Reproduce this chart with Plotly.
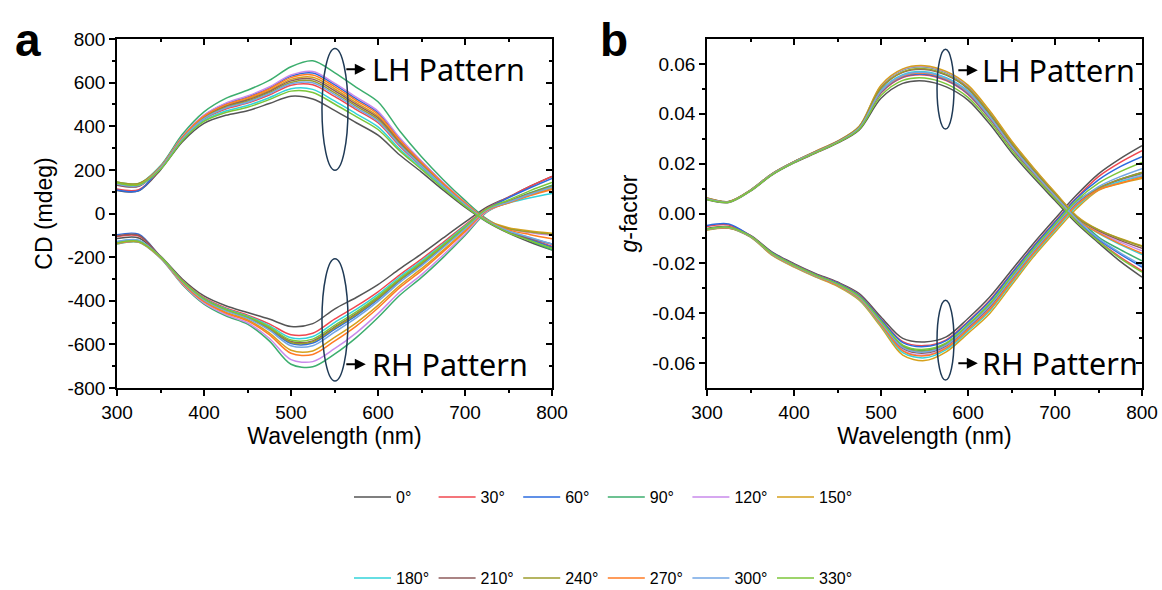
import plotly.graph_objects as go

# ---------------- data ----------------
WL = [300, 325, 350, 375, 400, 425, 450, 475, 500, 525, 550, 575, 600, 625, 650, 675, 700, 725, 750, 775, 800]
ANGLES = ['0°', '30°', '60°', '90°', '120°', '150°', '180°', '210°', '240°', '270°', '300°', '330°']
COLORS = ['#555555', '#F0474F', '#2B6BDF', '#3CAE6E', '#C98AEB', '#D6A11C',
          '#33D3DA', '#8E5B5B', '#9C9C2C', '#FF7B24', '#72A6E4', '#7CC63A']

X_TICKS = [300, 400, 500, 600, 700, 800]
CD_TICKS = [-800, -600, -400, -200, 0, 200, 400, 600, 800]
CD_TICKTEXT = ['-800', '-600', '-400', '-200', '0', '200', '400', '600', '800']
G_TICKS = [-0.06, -0.04, -0.02, 0.0, 0.02, 0.04, 0.06]
G_TICKTEXT = ['-0.06', '-0.04', '-0.02', '0.00', '0.02', '0.04', '0.06']

# panel a: CD (mdeg), LH pattern
cd_lh_000 = [106, 104, 200, 328, 413, 450, 471, 504, 538, 525, 473, 416, 359, 268, 190, 107, 29, -38, -90, -132, -168]
cd_lh_030 = [112, 109, 207, 341, 433, 479, 506, 543, 588, 590, 537, 476, 416, 309, 216, 125, 40, -33, -85, -118, -150]
cd_lh_060 = [108, 105, 213, 351, 449, 503, 535, 576, 630, 644, 591, 526, 463, 343, 238, 140, 50, -29, -85, -120, -155]
cd_lh_090 = [144, 138, 219, 362, 466, 528, 565, 610, 673, 700, 646, 578, 512, 378, 260, 155, 60, -25, -80, -125, -167]
cd_lh_120 = [140, 134, 214, 352, 451, 506, 539, 580, 635, 651, 598, 533, 469, 347, 240, 142, 51, -29, -70, -88, -100]
cd_lh_150 = [142, 135, 211, 347, 443, 494, 525, 564, 615, 625, 572, 508, 446, 331, 230, 134, 47, -31, -65, -80, -90]
cd_lh_180 = [132, 126, 205, 337, 426, 470, 495, 531, 572, 569, 516, 457, 397, 296, 208, 119, 37, -35, -80, -112, -140]
cd_lh_210 = [130, 125, 210, 346, 441, 491, 520, 559, 608, 616, 563, 500, 439, 325, 226, 132, 45, -31, -85, -115, -140]
cd_lh_240 = [145, 138, 209, 344, 438, 487, 515, 554, 601, 607, 554, 492, 431, 320, 223, 130, 44, -32, -70, -85, -95]
cd_lh_270 = [138, 132, 212, 349, 446, 499, 530, 571, 623, 635, 582, 518, 455, 337, 234, 137, 49, -30, -75, -97, -116]
cd_lh_300 = [135, 128, 208, 342, 435, 483, 510, 549, 595, 599, 546, 484, 423, 314, 219, 127, 42, -33, -80, -110, -140]
cd_lh_330 = [140, 132, 203, 334, 422, 463, 487, 522, 561, 555, 502, 444, 385, 287, 202, 115, 34, -36, -88, -125, -160]

# panel a: CD (mdeg), RH pattern
cd_rh_000 = [-115, -112, -195, -300, -378, -423, -454, -484, -518, -505, -438, -385, -326, -254, -185, -112, -40, 29, 75, 125, 170]
cd_rh_030 = [-105, -103, -197, -306, -386, -433, -466, -506, -556, -549, -484, -425, -359, -281, -209, -132, -53, 24, 75, 125, 170]
cd_rh_060 = [-98, -95, -200, -311, -395, -444, -478, -529, -596, -594, -531, -468, -394, -308, -234, -152, -67, 19, 72, 118, 161]
cd_rh_090 = [-140, -132, -205, -325, -415, -469, -507, -584, -691, -703, -645, -569, -477, -375, -293, -201, -101, 6, 55, 95, 130]
cd_rh_120 = [-138, -130, -204, -322, -411, -463, -501, -572, -670, -679, -620, -547, -459, -360, -280, -190, -94, 9, 50, 85, 115]
cd_rh_150 = [-135, -128, -201, -316, -401, -452, -487, -547, -627, -630, -568, -501, -421, -330, -253, -168, -78, 15, 50, 85, 115]
cd_rh_180 = [-130, -124, -198, -308, -389, -437, -470, -514, -570, -564, -500, -440, -371, -290, -217, -139, -58, 16, 48, 72, 92]
cd_rh_210 = [-103, -100, -199, -310, -393, -441, -475, -524, -587, -584, -521, -459, -386, -302, -228, -148, -64, 20, 55, 92, 124]
cd_rh_240 = [-133, -127, -199, -311, -394, -442, -476, -526, -591, -588, -525, -462, -389, -305, -230, -149, -66, 19, 55, 92, 124]
cd_rh_270 = [-137, -130, -202, -318, -404, -456, -492, -555, -641, -646, -585, -516, -433, -340, -262, -175, -83, 13, 48, 82, 110]
cd_rh_300 = [-128, -122, -200, -313, -397, -446, -481, -535, -606, -606, -544, -479, -403, -316, -240, -157, -71, 17, 52, 88, 120]
cd_rh_330 = [-135, -128, -199, -309, -391, -440, -473, -520, -580, -576, -513, -451, -380, -298, -224, -144, -62, 21, 62, 105, 142]

# panel b: g-factor, LH pattern
g_lh_000 = [0.0055, 0.0044, 0.0090, 0.0155, 0.0203, 0.0242, 0.0282, 0.0335, 0.0462, 0.0522, 0.0532, 0.0508, 0.0455, 0.0359, 0.0245, 0.0145, 0.0052, -0.0040, -0.0118, -0.0192, -0.0255]
g_lh_030 = [0.0058, 0.0046, 0.0092, 0.0157, 0.0205, 0.0245, 0.0285, 0.0341, 0.0483, 0.0545, 0.0556, 0.0533, 0.0478, 0.0380, 0.0264, 0.0161, 0.0065, -0.0028, -0.0110, -0.0175, -0.0230]
g_lh_060 = [0.0058, 0.0046, 0.0092, 0.0157, 0.0205, 0.0246, 0.0286, 0.0342, 0.0486, 0.0548, 0.0559, 0.0536, 0.0481, 0.0383, 0.0266, 0.0163, 0.0067, -0.0026, -0.0104, -0.0163, -0.0215]
g_lh_090 = [0.0061, 0.0048, 0.0094, 0.0160, 0.0208, 0.0249, 0.0289, 0.0349, 0.0511, 0.0575, 0.0588, 0.0565, 0.0509, 0.0408, 0.0288, 0.0182, 0.0082, -0.0012, -0.0095, -0.0145, -0.0190]
g_lh_120 = [0.0062, 0.0048, 0.0094, 0.0160, 0.0208, 0.0250, 0.0290, 0.0349, 0.0512, 0.0577, 0.0590, 0.0567, 0.0511, 0.0409, 0.0290, 0.0183, 0.0083, -0.0011, -0.0075, -0.0115, -0.0150]
g_lh_150 = [0.0062, 0.0048, 0.0094, 0.0160, 0.0208, 0.0250, 0.0290, 0.0350, 0.0515, 0.0580, 0.0593, 0.0570, 0.0515, 0.0412, 0.0292, 0.0185, 0.0085, -0.0010, -0.0065, -0.0100, -0.0130]
g_lh_180 = [0.0059, 0.0046, 0.0092, 0.0158, 0.0206, 0.0247, 0.0287, 0.0344, 0.0494, 0.0557, 0.0569, 0.0545, 0.0491, 0.0391, 0.0273, 0.0169, 0.0072, -0.0022, -0.0080, -0.0125, -0.0165]
g_lh_210 = [0.0060, 0.0047, 0.0093, 0.0159, 0.0207, 0.0248, 0.0288, 0.0346, 0.0502, 0.0566, 0.0578, 0.0555, 0.0500, 0.0399, 0.0280, 0.0175, 0.0077, -0.0017, -0.0070, -0.0108, -0.0140]
g_lh_240 = [0.0061, 0.0047, 0.0093, 0.0159, 0.0207, 0.0248, 0.0288, 0.0347, 0.0504, 0.0568, 0.0581, 0.0558, 0.0503, 0.0401, 0.0283, 0.0177, 0.0078, -0.0016, -0.0066, -0.0102, -0.0132]
g_lh_270 = [0.0059, 0.0046, 0.0092, 0.0158, 0.0206, 0.0246, 0.0286, 0.0343, 0.0489, 0.0551, 0.0563, 0.0539, 0.0485, 0.0386, 0.0269, 0.0165, 0.0069, -0.0025, -0.0078, -0.0122, -0.0160]
g_lh_300 = [0.0059, 0.0046, 0.0092, 0.0158, 0.0206, 0.0246, 0.0286, 0.0343, 0.0491, 0.0554, 0.0566, 0.0542, 0.0488, 0.0388, 0.0271, 0.0167, 0.0070, -0.0023, -0.0100, -0.0158, -0.0208]
g_lh_330 = [0.0056, 0.0045, 0.0091, 0.0156, 0.0204, 0.0244, 0.0284, 0.0338, 0.0473, 0.0534, 0.0544, 0.0520, 0.0466, 0.0370, 0.0254, 0.0153, 0.0059, -0.0034, -0.0112, -0.0180, -0.0235]

# panel b: g-factor, RH pattern
g_rh_000 = [-0.0060, -0.0053, -0.0088, -0.0155, -0.0201, -0.0241, -0.0275, -0.0321, -0.0415, -0.0501, -0.0515, -0.0495, -0.0421, -0.0335, -0.0228, -0.0121, -0.0021, 0.0075, 0.0159, 0.0220, 0.0272]
g_rh_030 = [-0.0052, -0.0046, -0.0089, -0.0158, -0.0204, -0.0244, -0.0278, -0.0326, -0.0423, -0.0514, -0.0530, -0.0507, -0.0433, -0.0348, -0.0240, -0.0132, -0.0032, 0.0064, 0.0148, 0.0205, 0.0252]
g_rh_060 = [-0.0048, -0.0042, -0.0090, -0.0158, -0.0205, -0.0245, -0.0279, -0.0328, -0.0425, -0.0518, -0.0534, -0.0510, -0.0436, -0.0352, -0.0243, -0.0135, -0.0035, 0.0061, 0.0135, 0.0188, 0.0228]
g_rh_090 = [-0.0063, -0.0056, -0.0091, -0.0161, -0.0207, -0.0247, -0.0283, -0.0333, -0.0433, -0.0531, -0.0549, -0.0522, -0.0448, -0.0365, -0.0255, -0.0145, -0.0045, 0.0050, 0.0100, 0.0135, 0.0160]
g_rh_120 = [-0.0064, -0.0057, -0.0093, -0.0164, -0.0211, -0.0251, -0.0287, -0.0340, -0.0443, -0.0548, -0.0568, -0.0537, -0.0463, -0.0381, -0.0270, -0.0159, -0.0059, 0.0036, 0.0098, 0.0130, 0.0155]
g_rh_150 = [-0.0066, -0.0059, -0.0095, -0.0168, -0.0215, -0.0255, -0.0292, -0.0348, -0.0455, -0.0568, -0.0590, -0.0555, -0.0481, -0.0401, -0.0288, -0.0175, -0.0075, 0.0020, 0.0093, 0.0120, 0.0140]
g_rh_180 = [-0.0065, -0.0058, -0.0094, -0.0166, -0.0213, -0.0253, -0.0289, -0.0344, -0.0449, -0.0558, -0.0579, -0.0546, -0.0472, -0.0391, -0.0279, -0.0167, -0.0067, 0.0028, 0.0097, 0.0128, 0.0150]
g_rh_210 = [-0.0064, -0.0057, -0.0092, -0.0163, -0.0209, -0.0249, -0.0285, -0.0337, -0.0439, -0.0541, -0.0560, -0.0531, -0.0457, -0.0375, -0.0264, -0.0153, -0.0053, 0.0042, 0.0102, 0.0138, 0.0165]
g_rh_240 = [-0.0063, -0.0056, -0.0092, -0.0162, -0.0208, -0.0248, -0.0284, -0.0335, -0.0435, -0.0535, -0.0553, -0.0525, -0.0451, -0.0368, -0.0258, -0.0148, -0.0048, 0.0047, 0.0102, 0.0138, 0.0165]
g_rh_270 = [-0.0065, -0.0058, -0.0093, -0.0165, -0.0212, -0.0252, -0.0288, -0.0341, -0.0445, -0.0551, -0.0571, -0.0540, -0.0466, -0.0385, -0.0273, -0.0162, -0.0062, 0.0034, 0.0095, 0.0122, 0.0145]
g_rh_300 = [-0.0063, -0.0056, -0.0092, -0.0162, -0.0209, -0.0249, -0.0284, -0.0336, -0.0437, -0.0538, -0.0556, -0.0528, -0.0454, -0.0371, -0.0261, -0.0151, -0.0051, 0.0045, 0.0108, 0.0148, 0.0180]
g_rh_330 = [-0.0062, -0.0055, -0.0091, -0.0160, -0.0207, -0.0247, -0.0282, -0.0332, -0.0431, -0.0528, -0.0545, -0.0519, -0.0445, -0.0361, -0.0252, -0.0143, -0.0043, 0.0053, 0.0122, 0.0168, 0.0205]

CD_LH = [cd_lh_000, cd_lh_030, cd_lh_060, cd_lh_090, cd_lh_120, cd_lh_150,
         cd_lh_180, cd_lh_210, cd_lh_240, cd_lh_270, cd_lh_300, cd_lh_330]
CD_RH = [cd_rh_000, cd_rh_030, cd_rh_060, cd_rh_090, cd_rh_120, cd_rh_150,
         cd_rh_180, cd_rh_210, cd_rh_240, cd_rh_270, cd_rh_300, cd_rh_330]
G_LH = [g_lh_000, g_lh_030, g_lh_060, g_lh_090, g_lh_120, g_lh_150,
        g_lh_180, g_lh_210, g_lh_240, g_lh_270, g_lh_300, g_lh_330]
G_RH = [g_rh_000, g_rh_030, g_rh_060, g_rh_090, g_rh_120, g_rh_150,
        g_rh_180, g_rh_210, g_rh_240, g_rh_270, g_rh_300, g_rh_330]

# ---------------- figure ----------------
W, H = 1162, 590
FONT = 'Liberation Sans, Arial, sans-serif'
LW = 1.5

fig = go.Figure()

for i, (ang, col) in enumerate(zip(ANGLES, COLORS)):
    leg = 'legend' if i < 6 else 'legend2'
    line = dict(color=col, width=LW, shape='spline', smoothing=0.9)
    fig.add_trace(go.Scatter(x=WL, y=CD_LH[i], mode='lines', line=line, name=ang,
                             legend=leg, showlegend=True, xaxis='x', yaxis='y'))
    fig.add_trace(go.Scatter(x=WL, y=CD_RH[i], mode='lines', line=line, name=ang,
                             legend=leg, showlegend=False, xaxis='x', yaxis='y'))
    fig.add_trace(go.Scatter(x=WL, y=G_LH[i], mode='lines', line=line, name=ang,
                             legend=leg, showlegend=False, xaxis='x2', yaxis='y2'))
    fig.add_trace(go.Scatter(x=WL, y=G_RH[i], mode='lines', line=line, name=ang,
                             legend=leg, showlegend=False, xaxis='x2', yaxis='y2'))

# dummy traces to activate the inward-tick overlay axes (top / right)
for xa, ya in [('x3', 'y'), ('x', 'y3'), ('x4', 'y2'), ('x2', 'y4')]:
    fig.add_trace(go.Scatter(x=[None], y=[None], xaxis=xa, yaxis=ya, showlegend=False,
                             hoverinfo='skip'))

xa_dom = [117 / W, 552 / W]
xb_dom = [707 / W, 1142 / W]
y_dom = [1 - 388 / H, 1 - 39 / H]

x_minor = [v for v in range(350, 800, 100)]
cd_minor = [v for v in range(-700, 800, 200)]
g_minor = [-0.05, -0.03, -0.01, 0.01, 0.03, 0.05]

def xaxis_main(dom, anchor):
    return dict(domain=dom, anchor=anchor, range=[300, 800], tickmode='array', tickvals=X_TICKS,
                ticks='outside', ticklen=6, tickwidth=1.5, tickcolor='black', automargin=False,
                minor=dict(tickmode='array', tickvals=x_minor, ticks='outside', ticklen=3,
                           tickwidth=1.5, tickcolor='black', showgrid=False),
                showline=True, linecolor='black', linewidth=1.5, mirror=True,
                showgrid=False, zeroline=False,
                tickfont=dict(family=FONT, size=19, color='black'),
                title=dict(text='Wavelength (nm)', font=dict(family=FONT, size=23, color='black'),
                           standoff=4))

def xaxis_top(overlay, anchor):
    return dict(overlaying=overlay, anchor=anchor, side='top', range=[300, 800],
                tickmode='array', tickvals=X_TICKS, ticks='inside', ticklen=6, tickwidth=1.5,
                tickcolor='black', showticklabels=False, showline=False, showgrid=False,
                zeroline=False, automargin=False,
                minor=dict(tickmode='array', tickvals=x_minor, ticks='inside', ticklen=3,
                           tickwidth=1.5, tickcolor='black', showgrid=False))

def yaxis_main(anchor, rng, tv, tt, mv, title, standoff):
    return dict(domain=y_dom, anchor=anchor, range=rng, tickmode='array', tickvals=tv, ticktext=tt,
                ticks='outside', ticklen=6, tickwidth=1.5, tickcolor='black', automargin=False,
                minor=dict(tickmode='array', tickvals=mv, ticks='outside', ticklen=3,
                           tickwidth=1.5, tickcolor='black', showgrid=False),
                showline=True, linecolor='black', linewidth=1.5, mirror=True,
                showgrid=False, zeroline=False,
                tickfont=dict(family=FONT, size=19, color='black'),
                title=dict(text=title, font=dict(family=FONT, size=23, color='black'),
                           standoff=standoff))

def yaxis_right(overlay, anchor, rng, tv, mv):
    return dict(overlaying=overlay, anchor=anchor, side='right', range=rng,
                tickmode='array', tickvals=tv, ticks='inside', ticklen=6, tickwidth=1.5,
                tickcolor='black', showticklabels=False, showline=False, showgrid=False,
                zeroline=False, automargin=False,
                minor=dict(tickmode='array', tickvals=mv, ticks='inside', ticklen=3,
                           tickwidth=1.5, tickcolor='black', showgrid=False))

CD_RANGE = [-800, 800]
G_RANGE = [-0.07, 0.07]

LEG_COMMON = dict(orientation='h', xanchor='left', yanchor='middle',
                  entrywidth=32.6, entrywidthmode='pixels', itemwidth=37,
                  font=dict(family=FONT, size=16, color='black'), bgcolor='rgba(0,0,0,0)')

fig.update_layout(
    width=W, height=H, margin=dict(l=0, r=0, t=0, b=0, autoexpand=False),
    paper_bgcolor='white', plot_bgcolor='white',
    font=dict(family=FONT, size=15, color='black'),
    xaxis=xaxis_main(xa_dom, 'y'),
    yaxis=yaxis_main('x', CD_RANGE, CD_TICKS, CD_TICKTEXT, cd_minor, 'CD (mdeg)', 8),
    xaxis2=xaxis_main(xb_dom, 'y2'),
    yaxis2=yaxis_main('x2', G_RANGE, G_TICKS, G_TICKTEXT, g_minor, '<i>g</i>-factor', 8),
    xaxis3=xaxis_top('x', 'y'),
    yaxis3=yaxis_right('y', 'x', CD_RANGE, CD_TICKS, cd_minor),
    xaxis4=xaxis_top('x2', 'y2'),
    yaxis4=yaxis_right('y2', 'x2', G_RANGE, G_TICKS, g_minor),
    legend=dict(x=349 / W, y=1 - 497 / H, **LEG_COMMON),
    legend2=dict(x=349 / W, y=1 - 578 / H, **LEG_COMMON),
    showlegend=True,
)

# ellipses around the bundles
ELL = '#1F3A56'
ellipses = [
    ('x', 'y', 535.6, 565.5, 198, 757),
    ('x', 'y', 535.6, 565.5, -768, -208),
    ('x2', 'y2', 564.4, 583.9, 0.0339, 0.0659),
    ('x2', 'y2', 564.4, 583.9, -0.0668, -0.0348),
]
for xr, yr, x0, x1, y0, y1 in ellipses:
    fig.add_shape(type='circle', xref=xr, yref=yr, x0=x0, x1=x1, y0=y0, y1=y1,
                  line=dict(color=ELL, width=1.5))

PAT_FONT = dict(family='Noto Sans, Open Sans, sans-serif', size=30.5, color='black')
labels = [
    ('x', 'y', 586, 661, 591, 'LH Pattern'),
    ('x', 'y', 586, -691, 591, 'RH Pattern'),
    ('x2', 'y2', 611.3, 0.0575, 614, 'LH Pattern'),
    ('x2', 'y2', 611.3, -0.0601, 614, 'RH Pattern'),
]
for xr, yr, xh, yv, xt, txt in labels:
    fig.add_annotation(xref=xr, yref=yr, x=xh, y=yv, text='', showarrow=True,
                       ax=-21, ay=0, axref='pixel', ayref='pixel', arrowhead=2, arrowsize=1.1,
                       arrowwidth=2, arrowcolor='black', standoff=0, startstandoff=0)
    fig.add_annotation(xref=xr, yref=yr, x=xt, y=yv, text=txt, showarrow=False,
                       xanchor='left', yanchor='middle', font=PAT_FONT)

for txt, xp in [('a', 28), ('b', 614)]:
    fig.add_annotation(xref='paper', yref='paper', x=xp / W, y=1 - 40 / H, text='<b>%s</b>' % txt,
                       showarrow=False, xanchor='center', yanchor='middle',
                       font=dict(family=FONT, size=46, color='black'))

fig.write_html('out.html')
